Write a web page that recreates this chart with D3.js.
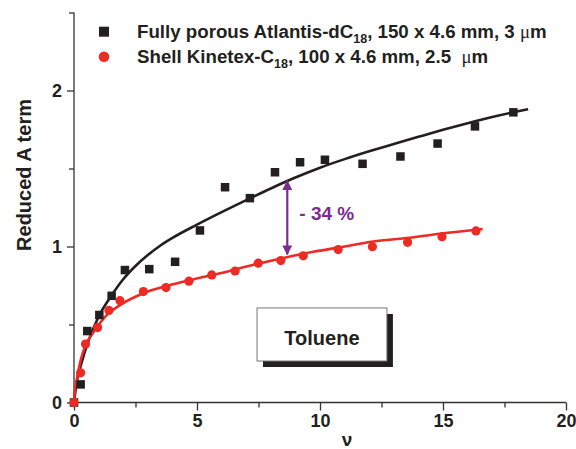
<!DOCTYPE html>
<html><head><meta charset="utf-8">
<script src="https://cdn.jsdelivr.net/npm/d3@7"></script>
<style>
html,body{margin:0;padding:0;background:#fff;}
svg text{font-family:"Liberation Sans",Arial,sans-serif;font-weight:bold;fill:#231f20;white-space:pre;}
</style></head>
<body><svg id="c" width="576" height="449"></svg>
<script>
// Fully porous Atlantis-dC18 (black squares)
const porousNu = [0, 0.27, 0.54, 1.03, 1.53, 2.07, 3.06, 4.11, 5.12, 6.14, 7.15, 8.17, 9.19, 10.2, 11.73, 13.27, 14.78, 16.3, 17.86];
const porousA  = [0, 0.116, 0.458, 0.561, 0.684, 0.849, 0.855, 0.902, 1.103, 1.38, 1.31, 1.476, 1.54, 1.556, 1.53, 1.577, 1.66, 1.77, 1.86];
// Shell Kinetex-C18 (red circles)
const shellNu = [0, 0.27, 0.47, 0.96, 1.42, 1.87, 2.82, 3.74, 4.67, 5.6, 6.55, 7.49, 8.41, 9.32, 10.74, 12.13, 13.56, 14.96, 16.34];
const shellA  = [0, 0.19, 0.375, 0.48, 0.59, 0.653, 0.711, 0.737, 0.778, 0.818, 0.843, 0.893, 0.91, 0.94, 0.98, 0.999, 1.027, 1.063, 1.1];
// fitted curves
const porousFitNu = [0, 0.1, 0.3, 0.6, 1.0, 1.5, 2.0, 2.5, 3.0, 3.5, 4.0, 5.0, 6.0, 7.0, 8.0, 9.0, 10.0, 11.0, 12.0, 13.0, 14.0, 15.0, 16.0, 17.0, 18.0, 18.46];
const porousFitA  = [0, 0.12, 0.25, 0.40, 0.55, 0.68, 0.79, 0.875, 0.945, 1.005, 1.055, 1.14, 1.22, 1.297, 1.372, 1.442, 1.505, 1.56, 1.61, 1.657, 1.703, 1.748, 1.79, 1.83, 1.865, 1.88];
const shellFitNu = [0, 0.03, 0.11, 0.27, 0.45, 0.79, 1.33, 1.87, 2.82, 3.77, 4.85, 5.93, 7.02, 8.37, 9.73, 10.81, 12.17, 13.52, 14.88, 16.61];
const shellFitA  = [0, 0.07, 0.144, 0.27, 0.36, 0.45, 0.56, 0.624, 0.70, 0.747, 0.789, 0.828, 0.872, 0.922, 0.966, 0.995, 1.032, 1.054, 1.082, 1.112];
const xTicks = [0, 5, 10, 15, 20];
const xMinor = [2.5, 7.5, 12.5, 17.5];
const yTicks = [0, 1, 2];
const yMinor = [0.5, 1.5, 2.5];
const arrowNu = 8.67;
const arrowA = [1.42, 0.95];
const annotText = "- 34 %";
const boxLabel = "Toluene";

const svg = d3.select("#c");
const x = d3.scaleLinear().domain([0, 20]).range([74, 566]);
const y = d3.scaleLinear().domain([0, 2.5]).range([402.5, 12.5]);
const ink = "#231f20", red = "#ed2a24", purple = "#7b2c8f";

// axes
const xAxis = d3.axisBottom(x).tickValues(xTicks).tickSize(8).tickPadding(4).tickFormat(d3.format("d"));
const gx = svg.append("g").attr("transform", `translate(0,${y(0)})`).call(xAxis);
const xMin = d3.axisBottom(x).tickValues(xMinor).tickSize(5).tickFormat("");
svg.append("g").attr("transform", `translate(0,${y(0)})`).call(xMin).select(".domain").remove();
const yAxis = d3.axisLeft(y).tickValues(yTicks).tickSize(7).tickPadding(5).tickFormat(d3.format("d"));
const gy = svg.append("g").attr("transform", `translate(${x(0)},0)`).call(yAxis);
const yMin = d3.axisLeft(y).tickValues(yMinor).tickSize(5).tickFormat("");
svg.append("g").attr("transform", `translate(${x(0)},0)`).call(yMin).select(".domain").remove();
svg.selectAll(".domain").attr("stroke", "#333").attr("stroke-width", 1.3);
svg.selectAll(".tick line").attr("stroke", "#333").attr("stroke-width", 1.3);
svg.selectAll(".tick text").attr("font-size", 18).attr("fill", ink)
  .style("font-family", '"Liberation Sans",Arial,sans-serif').style("font-weight", "bold");
gx.selectAll(".domain").attr("d", `M${x(0)},0H${x(20)}`);
gy.selectAll(".domain").attr("d", `M0,${y(2.5)}V${y(0)}`);

// axis titles
svg.append("text").attr("transform", "translate(31,175) rotate(-90)").attr("text-anchor", "middle")
  .attr("font-size", 20).text("Reduced A term");
svg.append("text").attr("x", 347).attr("y", 446).attr("text-anchor", "middle")
  .attr("font-size", 19).text("ν");

// fit curves
const line = d3.line().x(d => x(d[0])).y(d => y(d[1])).curve(d3.curveMonotoneX);
svg.append("path").datum(porousFitNu.map((v, i) => [v, porousFitA[i]]))
  .attr("d", line).attr("fill", "none").attr("stroke", ink).attr("stroke-width", 2.6);
svg.append("path").datum(shellFitNu.map((v, i) => [v, shellFitA[i]]))
  .attr("d", line).attr("fill", "none").attr("stroke", red).attr("stroke-width", 2.6);

// points
const sq = 8.5;
svg.append("g").selectAll("rect").data(porousNu.map((v, i) => [v, porousA[i]])).join("rect")
  .attr("x", d => x(d[0]) - sq / 2).attr("y", d => y(d[1]) - sq / 2)
  .attr("width", sq).attr("height", sq).attr("fill", ink);
svg.append("g").selectAll("circle").data(shellNu.map((v, i) => [v, shellA[i]])).join("circle")
  .attr("cx", d => x(d[0])).attr("cy", d => y(d[1])).attr("r", 4.6).attr("fill", red);

// arrow
const defs = svg.append("defs");
defs.append("marker").attr("id", "ah").attr("viewBox", "0 0 10 10").attr("refX", 9).attr("refY", 5)
  .attr("markerWidth", 4.5).attr("markerHeight", 4.5).attr("orient", "auto-start-reverse")
  .attr("markerUnits", "strokeWidth")
  .append("path").attr("d", "M0,0L10,5L0,10Z").attr("fill", purple);
svg.append("line").attr("x1", x(arrowNu)).attr("x2", x(arrowNu))
  .attr("y1", y(arrowA[0])).attr("y2", y(arrowA[1]))
  .attr("stroke", purple).attr("stroke-width", 2.2)
  .attr("marker-start", "url(#ah)").attr("marker-end", "url(#ah)");
svg.append("text").attr("x", x(arrowNu) + 12).attr("y", 220).attr("font-size", 19)
  .style("fill", purple).text(annotText);

// Toluene box
const bx0 = x(7.44), bx1 = x(12.72), by0 = y(0.606), by1 = y(0.266);
svg.append("rect").attr("x", bx0 + 6).attr("y", by0 + 6).attr("width", bx1 - bx0).attr("height", by1 - by0).attr("fill", ink);
svg.append("rect").attr("x", bx0).attr("y", by0).attr("width", bx1 - bx0).attr("height", by1 - by0)
  .attr("fill", "#fff").attr("stroke", "#777").attr("stroke-width", 1);
svg.append("text").attr("x", (bx0 + bx1) / 2).attr("y", 345).attr("text-anchor", "middle")
  .attr("font-size", 20).text(boxLabel);

// legend
const lg = svg.append("g");
lg.append("rect").attr("x", 104 - 5).attr("y", 31.7 - 5).attr("width", 10).attr("height", 10).attr("fill", ink);
lg.append("circle").attr("cx", 104).attr("cy", 56.7).attr("r", 5.3).attr("fill", red);
function legendText(yb, parts) {
  const t = lg.append("text").attr("x", 137).attr("y", yb).attr("font-size", 18.7);
  parts.forEach(p => {
    const s = t.append("tspan").text(p.t);
    if (p.sub) s.attr("font-size", 12.5).attr("dy", 5);
    if (p.back) s.attr("dy", -5);
    if (p.mu) s.style("font-weight", "normal").style("font-family", '"Liberation Serif",serif');
  });
}
legendText(37.7, [{t: "Fully porous Atlantis-dC"}, {t: "18", sub: true}, {t: ", 150 x 4.6 mm, 3 ", back: true}, {t: "μ", mu: true}, {t: "m"}]);
legendText(63, [{t: "Shell Kinetex-C"}, {t: "18", sub: true}, {t: ", 100 x 4.6 mm, 2.5  ", back: true}, {t: "μ", mu: true}, {t: "m"}]);
</script></body></html>
